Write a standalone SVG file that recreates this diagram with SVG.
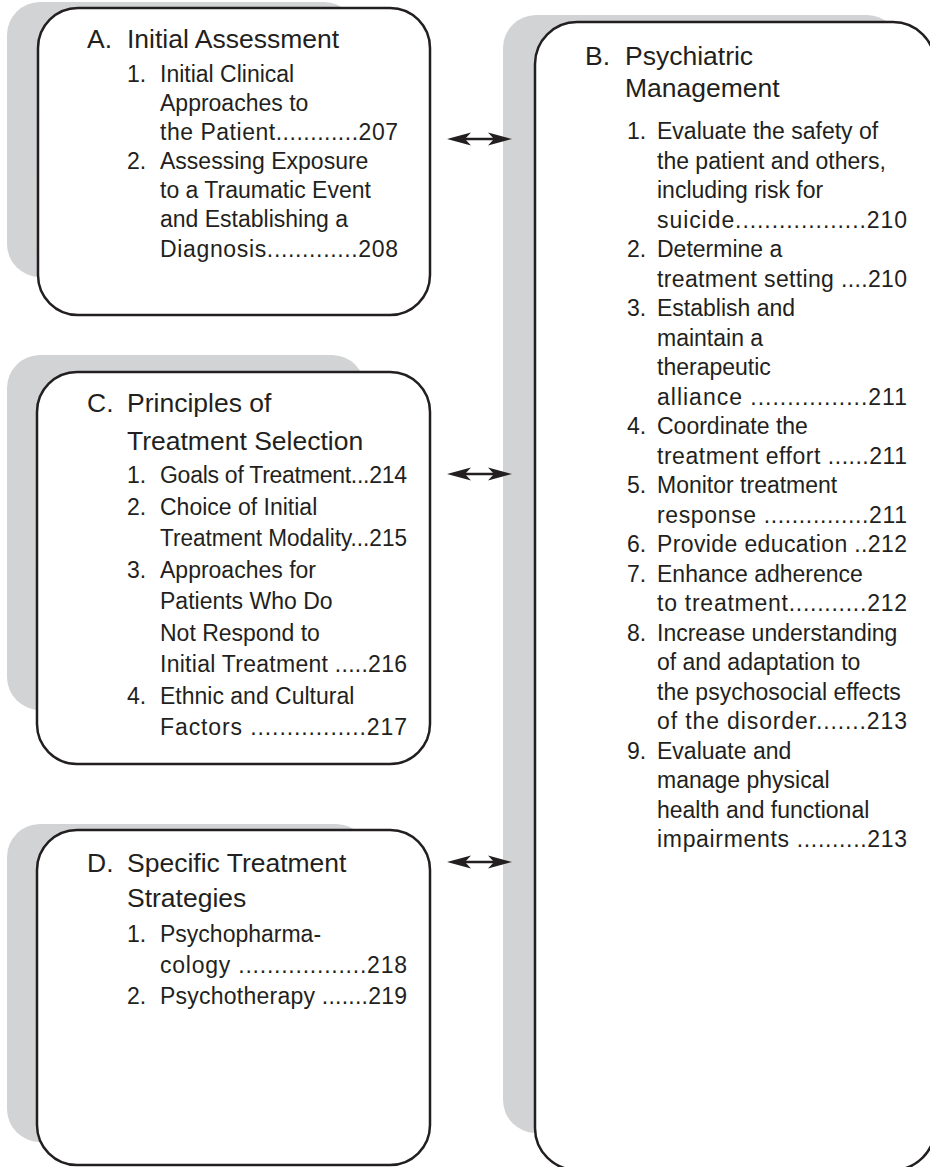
<svg xmlns="http://www.w3.org/2000/svg" width="930" height="1167" viewBox="0 0 930 1167">
<style>
.shadow{fill:#d1d3d4;stroke:none}
.box{fill:#ffffff;stroke:#231f20;stroke-width:2.5}
text{font-family:"Liberation Sans",Arial,sans-serif;fill:#231f20}
.h{font-size:26.5px}
.t{font-size:23px}
.conn{stroke:#231f20;stroke-width:2.5;fill:none}
</style>
<defs>
<marker id="ah" markerUnits="userSpaceOnUse" viewBox="0 0 24 16" markerWidth="24" markerHeight="16" refX="16" refY="8" orient="auto-start-reverse">
<path d="M0,1.5 L24,8 L0,14.5 L6,8 Z" fill="#231f20"/>
</marker>
</defs>
<rect width="930" height="1167" fill="#ffffff"/>

<g id="nodeB">
<rect class="shadow" x="503" y="15" width="397" height="1118" rx="33"/>
<rect class="box" x="535" y="22" width="400" height="1148" rx="42"/>
<text class="h" x="585" y="65">B.</text>
<text class="h" x="625" y="65">Psychiatric</text>
<text class="h" x="625" y="97">Management</text>
<text class="t" x="627" y="139">1.</text>
<text class="t" x="657" y="139">Evaluate the safety of</text>
<text class="t" x="657" y="168.5">the patient and others,</text>
<text class="t" x="657" y="198">including risk for</text>
<text class="t" x="657" y="227.5" textLength="250" lengthAdjust="spacing">suicide..................210</text>
<text class="t" x="627" y="257">2.</text>
<text class="t" x="657" y="257">Determine a</text>
<text class="t" x="657" y="286.5" textLength="250" lengthAdjust="spacing">treatment setting ....210</text>
<text class="t" x="627" y="316">3.</text>
<text class="t" x="657" y="316">Establish and</text>
<text class="t" x="657" y="345.5">maintain a</text>
<text class="t" x="657" y="375">therapeutic</text>
<text class="t" x="657" y="404.5" textLength="250" lengthAdjust="spacing">alliance ................211</text>
<text class="t" x="627" y="434">4.</text>
<text class="t" x="657" y="434">Coordinate the</text>
<text class="t" x="657" y="463.5" textLength="250" lengthAdjust="spacing">treatment effort ......211</text>
<text class="t" x="627" y="493">5.</text>
<text class="t" x="657" y="493">Monitor treatment</text>
<text class="t" x="657" y="522.5" textLength="250" lengthAdjust="spacing">response ...............211</text>
<text class="t" x="627" y="552">6.</text>
<text class="t" x="657" y="552" textLength="250" lengthAdjust="spacing">Provide education ..212</text>
<text class="t" x="627" y="581.5">7.</text>
<text class="t" x="657" y="581.5">Enhance adherence</text>
<text class="t" x="657" y="611" textLength="250" lengthAdjust="spacing">to treatment...........212</text>
<text class="t" x="627" y="640.5">8.</text>
<text class="t" x="657" y="640.5">Increase understanding</text>
<text class="t" x="657" y="670">of and adaptation to</text>
<text class="t" x="657" y="699.5">the psychosocial effects</text>
<text class="t" x="657" y="729" textLength="250" lengthAdjust="spacing">of the disorder.......213</text>
<text class="t" x="627" y="758.5">9.</text>
<text class="t" x="657" y="758.5">Evaluate and</text>
<text class="t" x="657" y="788">manage physical</text>
<text class="t" x="657" y="817.5">health and functional</text>
<text class="t" x="657" y="847" textLength="250" lengthAdjust="spacing">impairments ..........213</text>
</g>

<g id="nodeA">
<rect class="shadow" x="7" y="2" width="350" height="275" rx="33"/>
<rect class="box" x="38" y="8" width="392" height="307" rx="40"/>
<text class="h" x="87" y="48">A.</text>
<text class="h" x="127" y="48">Initial Assessment</text>
<text class="t" x="127" y="82">1.</text>
<text class="t" x="160" y="82">Initial Clinical</text>
<text class="t" x="160" y="111">Approaches to</text>
<text class="t" x="160" y="140" textLength="238" lengthAdjust="spacing">the Patient............207</text>
<text class="t" x="127" y="169">2.</text>
<text class="t" x="160" y="169">Assessing Exposure</text>
<text class="t" x="160" y="198">to a Traumatic Event</text>
<text class="t" x="160" y="227">and Establishing a</text>
<text class="t" x="160" y="256.5" textLength="238" lengthAdjust="spacing">Diagnosis.............208</text>
</g>

<g id="nodeC">
<rect class="shadow" x="7" y="355" width="358" height="355" rx="33"/>
<rect class="box" x="37" y="372" width="393" height="392" rx="40"/>
<text class="h" x="87" y="412">C.</text>
<text class="h" x="127" y="412">Principles of</text>
<text class="h" x="127" y="450">Treatment Selection</text>
<text class="t" x="127" y="483">1.</text>
<text class="t" x="160" y="483" textLength="247" lengthAdjust="spacing">Goals of Treatment...214</text>
<text class="t" x="127" y="514.5">2.</text>
<text class="t" x="160" y="514.5">Choice of Initial</text>
<text class="t" x="160" y="546" textLength="247" lengthAdjust="spacingAndGlyphs">Treatment Modality...215</text>
<text class="t" x="127" y="577.5">3.</text>
<text class="t" x="160" y="577.5">Approaches for</text>
<text class="t" x="160" y="609">Patients Who Do</text>
<text class="t" x="160" y="640.5">Not Respond to</text>
<text class="t" x="160" y="672" textLength="247" lengthAdjust="spacing">Initial Treatment .....216</text>
<text class="t" x="127" y="703.5">4.</text>
<text class="t" x="160" y="703.5">Ethnic and Cultural</text>
<text class="t" x="160" y="735" textLength="247" lengthAdjust="spacing">Factors ................217</text>
</g>

<g id="nodeD">
<rect class="shadow" x="7" y="824" width="362" height="318" rx="33"/>
<rect class="box" x="37" y="830" width="393" height="335" rx="40"/>
<text class="h" x="87" y="872">D.</text>
<text class="h" x="127" y="872">Specific Treatment</text>
<text class="h" x="127" y="907">Strategies</text>
<text class="t" x="127" y="942">1.</text>
<text class="t" x="160" y="942">Psychopharma-</text>
<text class="t" x="160" y="973" textLength="247" lengthAdjust="spacing">cology ..................218</text>
<text class="t" x="127" y="1004">2.</text>
<text class="t" x="160" y="1004" textLength="247" lengthAdjust="spacing">Psychotherapy .......219</text>
</g>

<g id="connectors">
<line class="conn" x1="455" y1="139" x2="504" y2="139" marker-start="url(#ah)" marker-end="url(#ah)"/>
<line class="conn" x1="455" y1="474" x2="504" y2="474" marker-start="url(#ah)" marker-end="url(#ah)"/>
<line class="conn" x1="455" y1="862" x2="504" y2="862" marker-start="url(#ah)" marker-end="url(#ah)"/>
</g>
</svg>
